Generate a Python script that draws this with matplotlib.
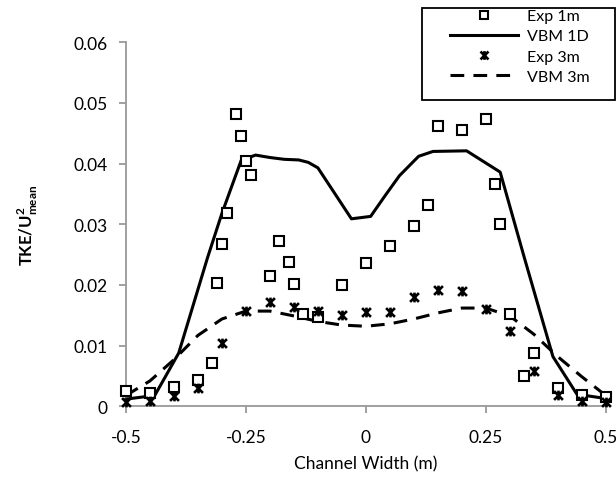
import numpy as np
import matplotlib
matplotlib.use("Agg")
import matplotlib.pyplot as plt
from matplotlib.path import Path
from matplotlib.patches import Rectangle

plt.rcParams['font.family'] = ['Lato', 'DejaVu Sans']
plt.rcParams['mathtext.fontset'] = 'custom'
plt.rcParams['mathtext.bf'] = 'Lato:bold'
plt.rcParams['mathtext.rm'] = 'Lato'

# Exp 1m (squares)
exp1_x = [-0.5, -0.45, -0.4, -0.35, -0.32, -0.31, -0.3, -0.29, -0.27, -0.26, -0.25, -0.24,
          -0.2, -0.18, -0.16, -0.15, -0.13, -0.1, -0.05, 0, 0.05, 0.1, 0.13, 0.15, 0.2,
          0.25, 0.27, 0.28, 0.3, 0.33, 0.35, 0.4, 0.45, 0.5]
exp1_y = [0.0026, 0.0022, 0.0032, 0.0044, 0.0071, 0.0203, 0.0267, 0.0319, 0.0481, 0.0446,
          0.0404, 0.0382, 0.0214, 0.0273, 0.0238, 0.0202, 0.0153, 0.0148, 0.0200, 0.0237,
          0.0265, 0.0297, 0.0332, 0.0462, 0.0455, 0.0473, 0.0366, 0.0300, 0.0152, 0.0050,
          0.0088, 0.0031, 0.0018, 0.0016]

# VBM 1D (solid line)
vbm1_x = [-0.5, -0.44, -0.39, -0.33, -0.30, -0.26, -0.23, -0.20, -0.17, -0.14, -0.12, -0.10,
          -0.03, 0.01, 0.04, 0.07, 0.11, 0.14, 0.21, 0.28, 0.33, 0.39, 0.44, 0.5]
vbm1_y = [0.0012, 0.0018, 0.0088, 0.0245, 0.0318, 0.0405, 0.0414, 0.0410, 0.0407, 0.0406,
          0.0402, 0.0393, 0.0309, 0.0313, 0.0347, 0.0380, 0.0412, 0.0420, 0.0421, 0.0386,
          0.0246, 0.0082, 0.0020, 0.0013]

# Exp 3m (stars)
exp3_x = [-0.5, -0.45, -0.4, -0.35, -0.3, -0.25, -0.2, -0.15, -0.1, -0.05, 0, 0.05, 0.1,
          0.15, 0.2, 0.25, 0.3, 0.35, 0.4, 0.45, 0.5]
exp3_y = [0.0007, 0.0009, 0.0017, 0.0031, 0.0104, 0.0157, 0.0172, 0.0164, 0.0157, 0.0150,
          0.0156, 0.0156, 0.0181, 0.0192, 0.0190, 0.0160, 0.0124, 0.0059, 0.0018, 0.0009,
          0.0008]

# VBM 3m (dashed line)
vbm3_x = [-0.5, -0.45, -0.4, -0.35, -0.3, -0.25, -0.2, -0.15, -0.1, -0.05, 0, 0.05, 0.1,
          0.15, 0.2, 0.25, 0.3, 0.35, 0.4, 0.45, 0.5]
vbm3_y = [0.0018, 0.0042, 0.0077, 0.0117, 0.0144, 0.0157, 0.0157, 0.0149, 0.0140, 0.0134,
          0.0132, 0.0136, 0.0144, 0.0154, 0.0162, 0.0162, 0.0149, 0.0119, 0.0082, 0.0049,
          0.0018]

xticks = [-0.5, -0.25, 0, 0.25, 0.5]
xtick_labels = ['-0.5', '-0.25', '0', '0.25', '0.5']
yticks = [0, 0.01, 0.02, 0.03, 0.04, 0.05, 0.06]
ytick_labels = ['0', '0.01', '0.02', '0.03', '0.04', '0.05', '0.06']

# star marker: X plus vertical bar
star = Path([(-1, -1), (1, 1), (-1, 1), (1, -1), (0, -1.1), (0, 1.1)],
            [Path.MOVETO, Path.LINETO, Path.MOVETO, Path.LINETO, Path.MOVETO, Path.LINETO])

W, H = 616, 485
fig = plt.figure(figsize=(W / 100, H / 100), dpi=100)
ax = fig.add_axes([0.2045, 0.16, 0.7788, 0.751])

ax.plot(exp1_x, exp1_y, linestyle='none', marker='s', markersize=6.5, markerfacecolor='white',
        markeredgecolor='black', markeredgewidth=1.5, clip_on=False, label='Exp 1m', zorder=3)
ax.plot(vbm1_x, vbm1_y, color='black', linewidth=2.2, label='VBM 1D', clip_on=False, zorder=2)
ax.plot(exp3_x, exp3_y, linestyle='none', marker=star, markersize=7, markeredgecolor='black',
        markeredgewidth=1.9, clip_on=False, label='Exp 3m', zorder=3)
ax.plot(vbm3_x, vbm3_y, color='black', linewidth=2.2, dashes=(4.5, 3), label='VBM 3m',
        clip_on=False, zorder=2)

ax.set_xlim(-0.5, 0.5)
ax.set_ylim(0, 0.06)
ax.set_xticks(xticks)
ax.set_xticklabels(xtick_labels)
ax.set_yticks(yticks)
ax.set_yticklabels(ytick_labels)

for s in ['top', 'right']:
    ax.spines[s].set_visible(False)
for s in ['left', 'bottom']:
    ax.spines[s].set_color('#999999')
    ax.spines[s].set_linewidth(1.3)
ax.tick_params(axis='both', direction='out', length=5, width=1.3, color='#999999',
               labelsize=12.5, labelcolor='black')
ax.tick_params(axis='y', pad=8)
ax.tick_params(axis='x', pad=11)

ax.set_xlabel('Channel Width (m)', fontsize=12.5)
ax.xaxis.set_label_coords(0.5, -0.135)
ax.set_ylabel(r'TKE/U$^{\mathbf{2}}_{\mathbf{mean}}$', fontsize=12, fontweight='bold')
ax.yaxis.set_label_coords(-0.18, 0.5)

# legend: entries without frame, box drawn as a figure rectangle
leg = ax.legend(loc='upper left', bbox_to_anchor=(450 / W, 1 - 10 / H),
                bbox_transform=fig.transFigure, borderaxespad=0, borderpad=0,
                frameon=False, fontsize=11.5, handlelength=4.25, handletextpad=0.55,
                labelspacing=0.38, markerscale=0.9)
fig.patches.append(Rectangle((422 / W, 1 - 101 / H), 193 / W, 92 / H,
                             transform=fig.transFigure, fill=False, edgecolor='black',
                             linewidth=1.3, zorder=5))

fig.savefig('out.png', dpi=100)
